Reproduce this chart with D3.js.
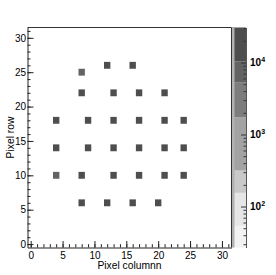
<!DOCTYPE html>
<html>
<head>
<meta charset="utf-8">
<script src="https://cdn.jsdelivr.net/npm/d3@7"></script>
<style>
  body { margin: 0; background: #fff; }
  text { font-family: "Liberation Sans", Arial, sans-serif; fill: #000; }
</style>
</head>
<body>
<svg id="chart" width="276" height="275"></svg>
<script>
// hit pixels (column, row) and counts
const cols = [12, 16, 8, 8, 13, 17, 21, 4, 9, 13, 17, 21, 24, 4, 9, 13, 17, 21, 24, 4, 8, 13, 17, 21, 24, 8, 12, 16, 20];
const rows = [26, 26, 25, 22, 22, 22, 22, 18, 18, 18, 18, 18, 18, 14, 14, 14, 14, 14, 14, 10, 10, 10, 10, 10, 10, 6, 6, 6, 6];
const counts = [15000, 15000, 7500, 15000, 15000, 15000, 15000, 15000, 15000, 15000, 15000, 15000, 15000,
    15000, 15000, 15000, 15000, 15000, 15000, 7500, 15000, 15000, 15000, 15000, 15000, 15000, 15000, 15000, 15000];

// palette contour levels and grey colours (bottom to top)
const zLevels = [27, 54, 155, 316, 1740, 5250, 10400, 30600];
const zColors = ["#f2f2f2", "#e6e6e6", "#c9c9c9", "#a3a3a3", "#7d7d7d", "#636363", "#4e4e4e"];

const xTicks = [0, 5, 10, 15, 20, 25, 30];
const yTicks = [0, 5, 10, 15, 20, 25, 30];
const zMajor = [100, 1000, 10000];

const svg = d3.select("#chart");

const fLeft = 27.5, fTop = 27.5, fRight = 231.5, fBottom = 247.5;

const x = d3.scaleLinear().domain([-0.5, 31.5]).range([fLeft, fRight]);
const y = d3.scaleLinear().domain([-0.5, 31.5]).range([fBottom, fTop]);
const z = d3.scaleLog().domain([zLevels[0], zLevels[zLevels.length - 1]]).range([fBottom, fTop]);

const color = d3.scaleThreshold()
    .domain(zLevels.slice(1, -1))
    .range(zColors);

// cells
const cells = cols.map((c, i) => ({ c: c, r: rows[i], v: counts[i] }));
svg.append("g")
    .selectAll("rect")
    .data(cells)
    .enter()
    .append("rect")
    .attr("x", d => x(d.c - 0.5))
    .attr("y", d => y(d.r + 0.5))
    .attr("width", x(1) - x(0))
    .attr("height", y(0) - y(1))
    .attr("fill", d => color(d.v));

// minor ticks
const minorX = d3.range(0, 32);
svg.append("g")
    .attr("transform", `translate(0,${fBottom})`)
    .call(d3.axisBottom(x).tickValues(minorX).tickSize(-3.3).tickFormat(""))
    .call(g => g.select(".domain").remove())
    .selectAll("line").attr("stroke", "#222");
svg.append("g")
    .attr("transform", `translate(${fLeft},0)`)
    .call(d3.axisLeft(y).tickValues(minorX).tickSize(-3).tickFormat(""))
    .call(g => g.select(".domain").remove())
    .selectAll("line").attr("stroke", "#222");

// major axes
const xAxis = svg.append("g")
    .attr("transform", `translate(0,${fBottom})`)
    .call(d3.axisBottom(x).tickValues(xTicks).tickSizeInner(-6.5).tickSizeOuter(0).tickPadding(4.5));
const yAxis = svg.append("g")
    .attr("transform", `translate(${fLeft},0)`)
    .call(d3.axisLeft(y).tickValues(yTicks).tickSizeInner(-6).tickSizeOuter(0).tickPadding(1.5));
[xAxis, yAxis].forEach(a => {
    a.selectAll("text").attr("font-size", 10).attr("font-family", "Liberation Sans, Arial, sans-serif").attr("fill", "#000");
    a.selectAll("line").attr("stroke", "#222");
    a.select(".domain").attr("stroke", "#222");
});

// frame top and right
svg.append("path")
    .attr("d", `M${fLeft},${fTop}H${fRight}V${fBottom}`)
    .attr("fill", "none")
    .attr("stroke", "#333");

// palette
const palX = 232, palW = 14;
svg.append("g")
    .selectAll("rect")
    .data(zColors)
    .enter()
    .append("rect")
    .attr("x", palX)
    .attr("width", palW)
    .attr("y", (d, i) => z(zLevels[i + 1]))
    .attr("height", (d, i) => z(zLevels[i]) - z(zLevels[i + 1]))
    .attr("fill", d => d);
svg.append("rect")
    .attr("x", palX).attr("y", fTop).attr("width", 2.5).attr("height", fBottom - fTop)
    .attr("fill", "#b2b2b2");

const minorZ = [];
[10, 100, 1000, 10000].forEach(dec => {
    for (let k = 2; k <= 9; k++) {
        const v = dec * k;
        if (v >= zLevels[0] && v <= zLevels[zLevels.length - 1]) minorZ.push(v);
    }
});
svg.append("g")
    .attr("transform", `translate(${palX + palW},0)`)
    .call(d3.axisRight(z).tickValues(minorZ).tickSize(-2.5).tickFormat(""))
    .call(g => g.select(".domain").remove())
    .selectAll("line").attr("stroke", "#333");

const zAxis = svg.append("g")
    .attr("transform", `translate(${palX + palW},0)`)
    .call(d3.axisRight(z).tickValues(zMajor).tickSizeInner(-5).tickSizeOuter(0).tickPadding(4).tickFormat(""));
zAxis.selectAll("line").attr("stroke", "#333");
zAxis.select(".domain").attr("stroke", "#555");
zAxis.selectAll("text").each(function (d) {
    const t = d3.select(this).attr("font-size", 10).attr("font-weight", "bold").attr("fill", "#000");
    t.append("tspan").text("10");
    t.append("tspan").attr("font-size", 7).attr("dy", "-0.55em").text(Math.round(Math.log10(d)));
});

// axis titles
svg.append("text")
    .attr("x", (fLeft + fRight) / 2)
    .attr("y", 269)
    .attr("text-anchor", "middle")
    .attr("font-size", 10.3)
    .attr("fill", "#000")
    .text("Pixel columnn");
svg.append("text")
    .attr("transform", `translate(14,${(fTop + fBottom) / 2}) rotate(-90)`)
    .attr("text-anchor", "middle")
    .attr("font-size", 10.3)
    .attr("fill", "#000")
    .text("Pixel row");
</script>
</body>
</html>
